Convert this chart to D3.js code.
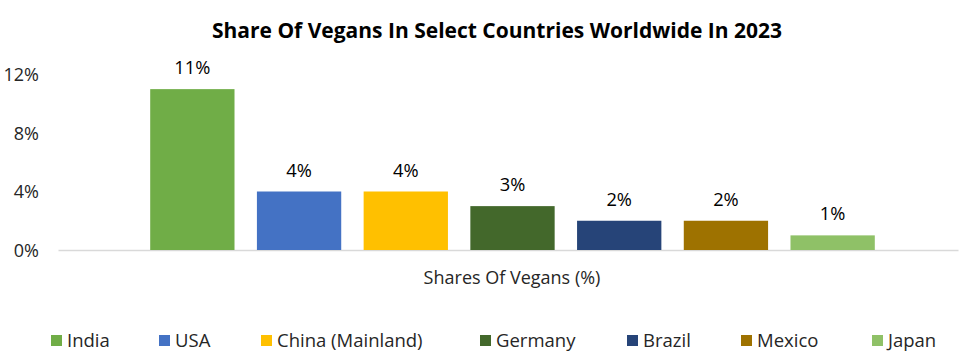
<!DOCTYPE html>
<html>
<head>
<meta charset="utf-8">
<script src="https://cdn.jsdelivr.net/npm/d3@7"></script>
<style>
  html, body { margin: 0; padding: 0; background: #ffffff; }
  svg { display: block; font-family: "Open Sans", "Noto Sans", sans-serif; }
</style>
</head>
<body>
<svg id="chart" width="966" height="359"></svg>
<script>
const categories = ["India", "USA", "China (Mainland)", "Germany", "Brazil", "Mexico", "Japan"];
const values = [11, 4, 4, 3, 2, 2, 1];
const colors = ["#70ad47", "#4472c4", "#ffc000", "#43682b", "#264478", "#9e7200", "#8fc167"];
const yTicks = [0, 4, 8, 12];
const title = "Share Of Vegans In Select Countries Worldwide In 2023";
const axisTitle = "Shares Of Vegans (%)";

const svg = d3.select("#chart");
const plotLeft = 58, plotRight = 958;

const x = d3.scaleBand().domain(categories).range([139, 886]).paddingInner(0.21).paddingOuter(0.105);
const y = d3.scaleLinear().domain([0, 12]).range([250, 74.5]);

svg.append("text")
  .attr("x", 497).attr("y", 38)
  .attr("text-anchor", "middle")
  .attr("font-weight", "bold")
  .attr("font-size", 21)
  .attr("fill", "#000")
  .text(title);

// y axis (labels only)
const yAxis = d3.axisLeft(y).tickValues(yTicks).tickFormat(d => d + "%").tickSize(0).tickPadding(0);
const gy = svg.append("g").attr("transform", "translate(39,0)").call(yAxis);
gy.select(".domain").remove();
gy.selectAll("text").attr("font-size", 18).attr("fill", "#262626").attr("font-family", "Open Sans, sans-serif").attr("dy", "0.36em");

// x axis baseline
const xAxis = d3.axisBottom(d3.scaleLinear().domain([0, 1]).range([plotLeft, plotRight])).tickValues([]).tickSize(0);
const gx = svg.append("g").attr("transform", `translate(0,${y(0)})`).call(xAxis);
gx.select(".domain").attr("stroke", "#d9d9d9").attr("stroke-width", 1.3);

// bars
svg.append("g").selectAll("rect")
  .data(categories)
  .join("rect")
  .attr("x", d => x(d))
  .attr("width", x.bandwidth())
  .attr("y", (d, i) => y(values[i]))
  .attr("height", (d, i) => y(0) - y(values[i]))
  .attr("fill", (d, i) => colors[i]);

// data labels
svg.append("g").selectAll("text")
  .data(categories)
  .join("text")
  .attr("x", d => x(d) + x.bandwidth() / 2)
  .attr("y", (d, i) => y(values[i]) - 15)
  .attr("text-anchor", "middle")
  .attr("font-size", 18.3)
  .attr("fill", "#000")
  .text((d, i) => values[i] + "%");

// axis title
svg.append("text")
  .attr("x", 512).attr("y", 284)
  .attr("text-anchor", "middle")
  .attr("font-size", 18)
  .attr("fill", "#262626")
  .text(axisTitle);

// legend
const legendX = [51, 159, 261, 480, 627, 741, 872];
const lg = svg.append("g").selectAll("g")
  .data(categories)
  .join("g")
  .attr("transform", (d, i) => `translate(${legendX[i]},335)`);
lg.append("rect").attr("width", 11).attr("height", 11).attr("fill", (d, i) => colors[i]);
lg.append("text").attr("x", 16).attr("y", 12).attr("font-size", 18.5).attr("fill", "#262626").text(d => d);
</script>
</body>
</html>
